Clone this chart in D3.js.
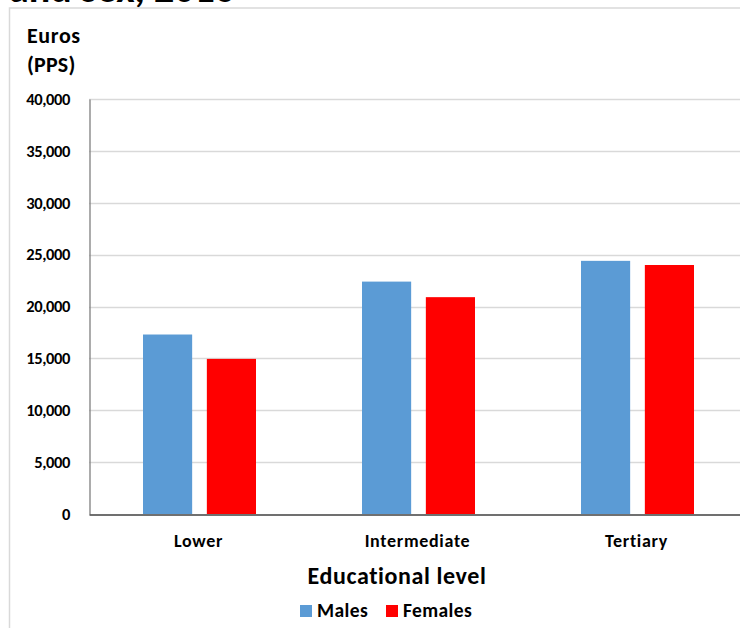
<!DOCTYPE html>
<html>
<head>
<meta charset="utf-8">
<script src="https://cdn.jsdelivr.net/npm/d3@7"></script>
<style>
  html, body { margin: 0; padding: 0; background: #fff; }
  svg { display: block; font-family: Carlito, Lato, "Liberation Sans", sans-serif; }
</style>
</head>
<body>
<svg id="chart" width="740" height="628"></svg>
<script>
const categories = ["Lower", "Intermediate", "Tertiary"];
const seriesNames = ["Males", "Females"];
const males = [17300, 22400, 24400];
const females = [14950, 20900, 24000];
const yTicks = [0, 5000, 10000, 15000, 20000, 25000, 30000, 35000, 40000];
const colors = ["#5b9bd5", "#ff0000"];

const svg = d3.select("#chart");
const W = 740, H = 628;
const margin = { left: 89, top: 99, bottom: 514, right: 746 };

// title (cut off at top)
svg.append("text").attr("x", 9).attr("y", 2)
  .attr("font-size", 40).attr("font-weight", "bold").attr("fill", "#000")
  .text("and sex, 2016");

// chart border
svg.append("rect").attr("x", 9.5).attr("y", 8).attr("width", 760).attr("height", 640)
  .attr("fill", "#fff").attr("stroke", "#d9d9d9").attr("stroke-width", 1.5);

const x0 = d3.scaleBand().domain(categories).range([margin.left, margin.right]).paddingInner(0).paddingOuter(0);
const x1 = d3.scaleBand().domain(seriesNames).range([0, 113]).paddingInner(0.23);
const y = d3.scaleLinear().domain([0, 40000]).range([margin.bottom, margin.top]);

// gridlines
svg.append("g").selectAll("line").data(yTicks.filter(d => d > 0)).join("line")
  .attr("x1", margin.left).attr("x2", W)
  .attr("y1", d => Math.round(y(d)) + 0.5).attr("y2", d => Math.round(y(d)) + 0.5)
  .attr("stroke", "#d9d9d9").attr("stroke-width", 1.3);

// y axis
const yAxis = d3.axisLeft(y).tickValues(yTicks).tickSize(0).tickPadding(19.5)
  .tickFormat(d3.format(","));
const gy = svg.append("g").attr("transform", `translate(${margin.left + 0.5},0)`).call(yAxis);
gy.select(".domain").attr("stroke", "#7f7f7f").attr("stroke-width", 1.3);
gy.selectAll("text").attr("font-size", 16.5).attr("font-weight", "bold").attr("fill", "#000")
  .attr("letter-spacing", -0.4).attr("font-family", "Carlito, Lato, sans-serif");

// bars
const data = categories.map((c, i) => ({ cat: c, vals: [males[i], females[i]] }));
const groups = svg.append("g").selectAll("g").data(data).join("g")
  .attr("transform", d => `translate(${x0(d.cat) + (x0.bandwidth() - 113) / 2 + 1},0)`);
groups.selectAll("rect").data(d => d.vals.map((v, j) => ({ s: seriesNames[j], v, j }))).join("rect")
  .attr("x", d => x1(d.s)).attr("width", x1.bandwidth())
  .attr("y", d => y(d.v)).attr("height", d => y(0) - y(d.v))
  .attr("fill", d => colors[d.j]);

// x axis
const xAxis = d3.axisBottom(x0).tickSize(0).tickPadding(20);
const gx = svg.append("g").attr("transform", `translate(0,${margin.bottom + 0.5})`).call(xAxis);
gx.select(".domain").attr("stroke", "#404040").attr("stroke-width", 1.5);
gx.selectAll("text").attr("font-size", 18).attr("font-weight", "bold").attr("fill", "#000")
  .attr("letter-spacing", 0.7).attr("font-family", "Carlito, Lato, sans-serif");

// y axis title
svg.append("text").attr("x", 27).attr("y", 43).attr("font-size", 22).attr("font-weight", "bold")
  .attr("letter-spacing", 0.6).text("Euros");
svg.append("text").attr("x", 27).attr("y", 72).attr("font-size", 22).attr("font-weight", "bold")
  .attr("letter-spacing", 0.2).text("(PPS)");

// x axis title
svg.append("text").attr("x", 397).attr("y", 584).attr("text-anchor", "middle")
  .attr("font-size", 24).attr("font-weight", "bold").attr("letter-spacing", 0.6)
  .attr("fill", "#000").text("Educational level");

// legend
const legend = svg.append("g");
const legendPos = [300, 386];
seriesNames.forEach((s, i) => {
  legend.append("rect").attr("x", legendPos[i]).attr("y", 605).attr("width", 12).attr("height", 12).attr("fill", colors[i]);
  legend.append("text").attr("x", legendPos[i] + 17).attr("y", 617).attr("font-size", 19.5)
    .attr("font-weight", "bold").attr("letter-spacing", 0.4).text(s);
});
</script>
</body>
</html>
